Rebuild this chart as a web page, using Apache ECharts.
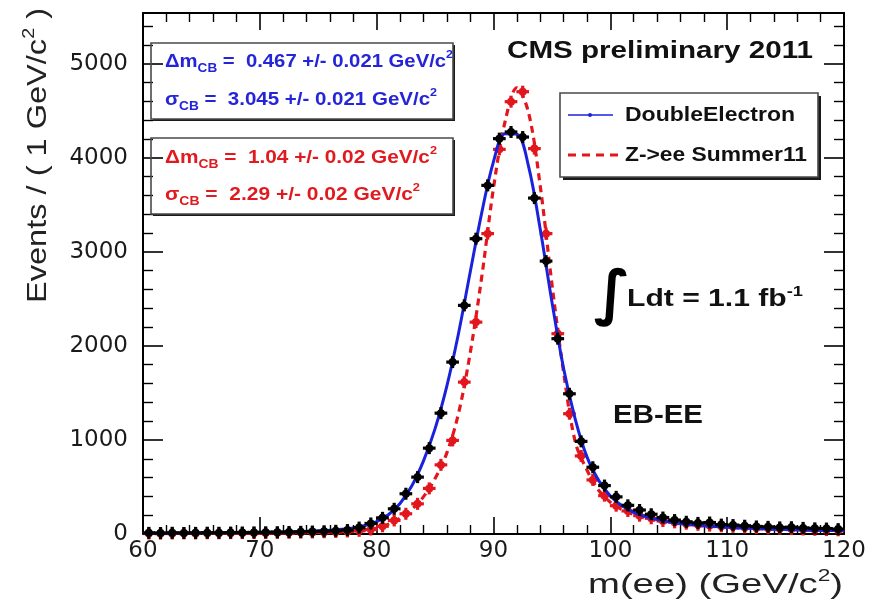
<!DOCTYPE html>
<html>
<head>
<meta charset="utf-8">
<script src="https://cdn.jsdelivr.net/npm/echarts@6/dist/echarts.min.js"></script>
<style>
  html, body { margin: 0; padding: 0; background: #fff; }
  #chart { width: 875px; height: 610px; }
</style>
</head>
<body>
<div id="chart"></div>
<script>
// Di-electron invariant mass, EB-EE category, 1 GeV/c^2 bins
const binCentres = [
  60.5, 61.5, 62.5, 63.5, 64.5, 65.5, 66.5, 67.5, 68.5, 69.5,
  70.5, 71.5, 72.5, 73.5, 74.5, 75.5, 76.5, 77.5, 78.5, 79.5,
  80.5, 81.5, 82.5, 83.5, 84.5, 85.5, 86.5, 87.5, 88.5, 89.5,
  90.5, 91.5, 92.5, 93.5, 94.5, 95.5, 96.5, 97.5, 98.5, 99.5,
  100.5, 101.5, 102.5, 103.5, 104.5, 105.5, 106.5, 107.5, 108.5, 109.5,
  110.5, 111.5, 112.5, 113.5, 114.5, 115.5, 116.5, 117.5, 118.5, 119.5
];

// DoubleElectron data (events per bin)
const dataEvents = [
  12, 10, 13, 11, 12, 14, 13, 15, 16, 17,
  18, 19, 21, 23, 26, 29, 34, 42, 68, 112,
  172, 268, 428, 605, 913, 1285, 1828, 2431, 3140, 3707,
  4204, 4275, 4221, 3572, 2902, 2077, 1491, 985, 710, 515,
  395, 305, 255, 210, 175, 148, 130, 118, 122, 100,
  95, 88, 80, 76, 70, 72, 65, 60, 58, 52
];

// Z->ee Summer11 simulation (events per bin)
const mcEvents = [
  6, 5, 6, 7, 6, 8, 8, 9, 10, 10,
  11, 12, 13, 15, 17, 19, 22, 27, 34, 48,
  82, 144, 215, 321, 485, 735, 995, 1615, 2253, 3194,
  4090, 4597, 4703, 4098, 3194, 2130, 1279, 830, 575, 408,
  301, 245, 195, 167, 138, 124, 110, 98, 90, 82,
  76, 70, 64, 60, 55, 52, 48, 45, 42, 40
];

// Fitted line shapes sampled at whole GeV/c^2
const fitMass = [
  60, 61, 62, 63, 64, 65, 66, 67, 68, 69,
  70, 71, 72, 73, 74, 75, 76, 77, 78, 79,
  80, 81, 82, 83, 84, 85, 86, 87, 88, 89,
  90, 91, 92, 93, 94, 95, 96, 97, 98, 99,
  100, 101, 102, 103, 104, 105, 106, 107, 108, 109,
  110, 111, 112, 113, 114, 115, 116, 117, 118, 119, 120
];
const dataFit = [
  8, 8, 9, 10, 10, 11, 12, 14, 15, 16,
  18, 20, 22, 25, 29, 34, 40, 50, 65, 90,
  132, 205, 325, 510, 775, 1120, 1570, 2130, 2780, 3420,
  3960, 4255, 4250, 3910, 3240, 2470, 1760, 1220, 820, 570,
  405, 300, 230, 185, 153, 130, 112, 99, 88, 79,
  71, 65, 60, 55, 51, 47, 44, 41, 39, 37, 35
];
const mcFit = [
  3, 3, 4, 4, 5, 5, 6, 6, 7, 8,
  9, 10, 11, 13, 15, 18, 21, 26, 33, 44,
  63, 105, 170, 262, 395, 590, 860, 1280, 1920, 2740,
  3680, 4390, 4745, 4480, 3700, 2660, 1720, 980, 680, 465,
  338, 260, 207, 170, 143, 123, 108, 95, 85, 77,
  71, 65, 60, 55, 51, 48, 45, 42, 40, 38, 36
];

const BLUE = '#1b22dc';
const RED = '#e3161d';
const TEXT_BLUE = '#2424d8';
const TEXT_RED = '#e01a1e';

const measureCtx = document.createElement('canvas').getContext('2d');

// Rich text whose natural width is stretched to a given span.
// runs: [text, fontSize, fontWeight, shift] with shift 1 = superscript, -1 = subscript
function stretchedText(runs, opt) {
  const rich = {};
  let text = '';
  let natural = 0;
  const family = opt.family || 'Liberation Sans';
  runs.forEach(function (run, i) {
    const t = run[0], size = run[1], weight = run[2], shift = run[3] || 0;
    const key = 'r' + i;
    rich[key] = {
      fontFamily: family,
      fontSize: size,
      fontWeight: weight,
      fill: opt.color,
      lineHeight: shift === 0 ? opt.lineHeight : size + (opt.shiftPad || 4),
      verticalAlign: shift > 0 ? 'top' : (shift < 0 ? 'bottom' : 'middle')
    };
    text += '{' + key + '|' + t + '}';
    measureCtx.font = weight + ' ' + size + 'px "' + family + '"';
    natural += measureCtx.measureText(t).width;
  });
  const align = opt.align || 'left';
  return {
    type: 'text',
    x: opt.x,
    y: opt.y,
    rotation: opt.rotation || 0,
    scaleX: opt.width ? opt.width / natural : 1,
    scaleY: 1,
    z: 60,
    style: {
      text: text,
      rich: rich,
      fill: opt.color,
      align: align,
      textAlign: align,
      verticalAlign: 'middle',
      textVerticalAlign: 'middle'
    }
  };
}

function shadowBox(x, y, w, h, depth) {
  return [
    { type: 'rect', shape: { x: x + w, y: y + depth, width: depth, height: h }, style: { fill: '#1a1a1a' }, z: 40 },
    { type: 'rect', shape: { x: x + depth, y: y + h, width: w, height: depth }, style: { fill: '#1a1a1a' }, z: 40 },
    { type: 'rect', shape: { x: x, y: y, width: w, height: h }, style: { fill: 'none', stroke: '#4a4a4a', lineWidth: 1.6 }, z: 41 }
  ];
}

// Error-bar style markers: horizontal bar over the bin width, short vertical bar and a dot
function crossMarker(color) {
  return function (params, api) {
    const x = api.value(0), y = api.value(1);
    const c = api.coord([x, y]);
    const l = api.coord([x - 0.5, y]);
    const r = api.coord([x + 0.5, y]);
    return {
      type: 'group',
      children: [
        { type: 'line', shape: { x1: l[0] - 0.5, y1: c[1], x2: r[0] + 0.5, y2: c[1] }, style: { stroke: color, lineWidth: 3.2 } },
        { type: 'line', shape: { x1: c[0], y1: c[1] - 6, x2: c[0], y2: c[1] + 6 }, style: { stroke: color, lineWidth: 3.2 } },
        { type: 'circle', shape: { cx: c[0], cy: c[1], r: 4 }, style: { fill: color } }
      ]
    };
  };
}

const pairs = (xs, ys) => xs.map((x, i) => [x, ys[i]]);

const frameLine = { show: true, onZero: false, lineStyle: { color: '#000', width: 2 } };
const labelFont = { fontFamily: 'DejaVu Sans', fontSize: 23, color: '#1a1a1a' };

function massAxis(position, showLabels) {
  return {
    type: 'value', min: 60, max: 120, interval: 10, position: position,
    axisLine: frameLine,
    axisTick: { show: true, inside: true, length: 17, lineStyle: { color: '#000', width: 1.6 } },
    minorTick: { show: true, splitNumber: 5, length: 9, lineStyle: { color: '#000', width: 1.4 } },
    splitLine: { show: false },
    minorSplitLine: { show: false },
    axisLabel: Object.assign({ show: showLabels, margin: 6, formatter: v => String(v) }, labelFont)
  };
}

function eventsAxis(position, showLabels) {
  return {
    type: 'value', min: 0, max: 5540, interval: 1000, position: position,
    axisLine: frameLine,
    axisTick: { show: true, inside: true, length: 20, lineStyle: { color: '#000', width: 1.6 } },
    minorTick: { show: true, splitNumber: 5, length: 10, lineStyle: { color: '#000', width: 1.4 } },
    splitLine: { show: false },
    minorSplitLine: { show: false },
    axisLabel: Object.assign({
      show: showLabels, margin: 15,
      formatter: v => (v % 1000 === 0 ? String(v) : '')
    }, labelFont)
  };
}

const graphics = [].concat(
  shadowBox(151, 43, 302, 76, 2),
  shadowBox(151, 138, 302, 76, 2),
  shadowBox(560, 93, 258, 84, 3),
  [
    // legend samples
    { type: 'line', shape: { x1: 568, y1: 115, x2: 613, y2: 115 }, style: { stroke: BLUE, lineWidth: 1.6 }, z: 45 },
    { type: 'circle', shape: { cx: 590, cy: 115, r: 2 }, style: { fill: BLUE }, z: 45 },
    { type: 'line', shape: { x1: 568, y1: 155, x2: 620, y2: 155 }, style: { stroke: RED, lineWidth: 3, lineDash: [8, 6] }, z: 45 },
    // integral sign
    {
      type: 'text', x: 612, y: 297, z: 60,
      style: { text: '\u222B', fontFamily: 'DejaVu Sans', fontSize: 60, fontWeight: 'bold', fill: '#000',
        align: 'center', textAlign: 'center', verticalAlign: 'middle', textVerticalAlign: 'middle' }
    }
  ],
  [
    stretchedText([['CMS preliminary 2011', 23, 'bold']], { x: 507, y: 52, width: 306, color: '#111', lineHeight: 26 }),
    stretchedText([['DoubleElectron', 20, 'bold']], { x: 625, y: 115, width: 170, color: '#111', lineHeight: 24 }),
    stretchedText([['Z->ee Summer11', 20, 'bold']], { x: 625, y: 155, width: 182, color: '#111', lineHeight: 24 }),

    stretchedText([['\u0394m', 18, 'bold'], ['CB', 12, 'bold', -1], [' =  0.467 +/- 0.021 GeV/c', 18, 'bold'], ['2', 11, 'bold', 1]],
      { x: 165, y: 62, width: 288, color: TEXT_BLUE, lineHeight: 26 }),
    stretchedText([['\u03C3', 18, 'bold'], ['CB', 12, 'bold', -1], [' =  3.045 +/- 0.021 GeV/c', 18, 'bold'], ['2', 11, 'bold', 1]],
      { x: 165, y: 100, width: 272, color: TEXT_BLUE, lineHeight: 26 }),
    stretchedText([['\u0394m', 18, 'bold'], ['CB', 12, 'bold', -1], [' =  1.04 +/- 0.02 GeV/c', 18, 'bold'], ['2', 11, 'bold', 1]],
      { x: 165, y: 158, width: 272, color: TEXT_RED, lineHeight: 26 }),
    stretchedText([['\u03C3', 18, 'bold'], ['CB', 12, 'bold', -1], [' =  2.29 +/- 0.02 GeV/c', 18, 'bold'], ['2', 11, 'bold', 1]],
      { x: 165, y: 195, width: 255, color: TEXT_RED, lineHeight: 26 }),

    stretchedText([['Ldt = 1.1 fb', 23, 'bold'], ['-1', 14, 'bold', 1]], { x: 627, y: 300, width: 176, color: '#111', lineHeight: 30 }),
    stretchedText([['EB-EE', 26, 'bold']], { x: 613, y: 416, width: 90, color: '#111', lineHeight: 30 }),

    // axis titles
    stretchedText([['Events / ( 1 GeV/c', 28, 'normal'], ['2', 17, 'normal', 1], [' )', 28, 'normal']],
      { x: 38, y: 303, width: 295, rotation: Math.PI / 2, color: '#222', lineHeight: 34 }),
    stretchedText([['m(ee) (GeV/c', 27, 'normal'], ['2', 16, 'normal', 1], [')', 27, 'normal']],
      { x: 843, y: 586, width: 255, align: 'right', color: '#222', lineHeight: 34 })
  ]
);

const chart = echarts.init(document.getElementById('chart'), null, { renderer: 'canvas' });
chart.setOption({
  animation: false,
  backgroundColor: '#fff',
  grid: { left: 143, right: 31, top: 13, bottom: 76, containLabel: false },
  xAxis: [massAxis('bottom', true), massAxis('top', false)],
  yAxis: [eventsAxis('left', true), eventsAxis('right', false)],
  series: [
    {
      name: 'Z->ee Summer11', type: 'line', xAxisIndex: 0, yAxisIndex: 0,
      data: pairs(fitMass, mcFit), smooth: 0.35, showSymbol: false, z: 2,
      lineStyle: { color: RED, width: 3.2, type: [7, 5] }
    },
    {
      name: 'Z->ee Summer11 points', type: 'custom', xAxisIndex: 0, yAxisIndex: 0,
      data: pairs(binCentres, mcEvents), renderItem: crossMarker(RED), z: 3
    },
    {
      name: 'DoubleElectron', type: 'line', xAxisIndex: 0, yAxisIndex: 0,
      data: pairs(fitMass, dataFit), smooth: 0.35, showSymbol: false, z: 4,
      lineStyle: { color: BLUE, width: 3 }
    },
    {
      name: 'DoubleElectron points', type: 'custom', xAxisIndex: 0, yAxisIndex: 0,
      data: pairs(binCentres, dataEvents), renderItem: crossMarker('#000'), z: 5
    }
  ],
  graphic: { elements: graphics }
});
</script>
</body>
</html>
